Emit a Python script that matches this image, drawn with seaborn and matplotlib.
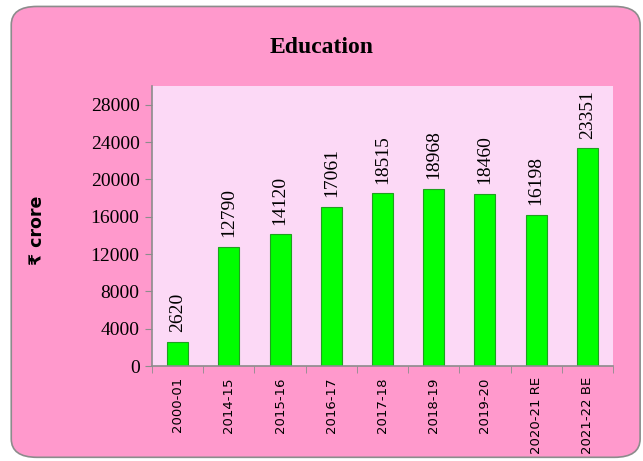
#!/usr/bin/env python3

import numpy as np
import pandas as pd
import seaborn as sns
import matplotlib.pyplot as plt
from matplotlib.patches import FancyBboxPatch

years = ["2000-01", "2014-15", "2015-16", "2016-17", "2017-18",
         "2018-19", "2019-20", "2020-21 RE", "2021-22 BE"]
spend = [2620, 12790, 14120, 17061, 18515, 18968, 18460, 16198, 23351]
y_ticks = [0, 4000, 8000, 12000, 16000, 20000, 24000, 28000]


def main():
    df = pd.DataFrame({"year": years, "spend": spend})

    sns.set_style("white")
    plt.rcParams["text.color"] = "black"
    plt.rcParams["xtick.color"] = "black"
    plt.rcParams["ytick.color"] = "black"
    fig = plt.figure(figsize=(6.43, 4.61), dpi=100)
    fig.patch.set_facecolor("white")

    # pink rounded frame around the whole chart
    frame = FancyBboxPatch((0.0175, 0.008), 0.978, 0.978,
                           boxstyle="round,pad=0,rounding_size=0.04",
                           transform=fig.transFigure,
                           facecolor="#FF99CC", edgecolor="#8C8C8C",
                           linewidth=1.2, zorder=-10)
    fig.patches.append(frame)

    ax = fig.add_axes([0.2364, 0.206, 0.717, 0.607])
    ax.set_zorder(5)
    ax.set_facecolor("#FCD9F6")

    sns.barplot(data=df, x="year", y="spend", color="#00FF00",
                width=0.41, edgecolor="#1FA01F", linewidth=0.8,
                saturation=1, ax=ax)

    for i, v in enumerate(spend):
        ax.annotate(str(v), (i, v), xytext=(0, 7), textcoords="offset points",
                    rotation=90, ha="center", va="bottom", color="black",
                    fontsize=14, family="Liberation Serif")

    ax.set_ylim(0, 30000)
    ax.set_xlim(-0.5, len(years) - 0.5)
    ax.set_yticks(y_ticks)
    ax.set_yticklabels([str(t) for t in y_ticks], family="Liberation Serif",
                       fontsize=14)
    ax.set_xticks(range(len(years)))
    ax.set_xticklabels(years, rotation=90, fontsize=9.5, family="DejaVu Sans")
    ax.set_xticks(np.arange(-0.5, len(years), 1), minor=True)
    ax.tick_params(axis="x", which="major", length=0, pad=8)
    ax.tick_params(axis="x", which="minor", length=5, color="#8C8C8C",
                   direction="out", bottom=True)
    ax.tick_params(axis="y", length=5, color="#8C8C8C", labelcolor="black",
                   direction="out", left=True, pad=4)

    for side in ["top", "right"]:
        ax.spines[side].set_visible(False)
    for side in ["left", "bottom"]:
        ax.spines[side].set_color("#8C8C8C")
        ax.spines[side].set_linewidth(1.2)

    ax.set_xlabel("")
    ax.set_ylabel("")
    fig.text(0.058, 0.5, "₹ crore", rotation=90, ha="center", va="center",
             fontsize=12.5, fontweight="bold", family="DejaVu Sans",
             color="black")
    fig.text(0.5, 0.898, "Education", ha="center", va="center",
             fontsize=17, fontweight="bold", family="Liberation Serif",
             color="black")

    fig.savefig("out.png", dpi=100, facecolor="white")


if __name__ == '__main__':
    main()
